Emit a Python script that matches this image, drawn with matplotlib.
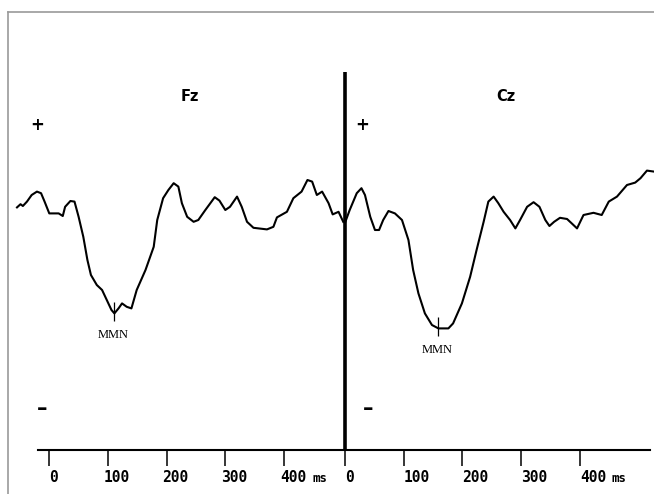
import matplotlib
matplotlib.use("Agg")
import matplotlib.pyplot as plt
from matplotlib.lines import Line2D
from matplotlib.transforms import ScaledTranslation

# Fz waveform (ms, microvolts)
fz_time = [-55, -49, -45, -38, -30, -21, -14, -8, 0, 16, 23, 27, 36, 43, 50, 58,
           65, 71, 81, 90, 98, 106, 111, 118, 124, 132, 140, 149, 164, 178, 184,
           194, 203, 212, 220, 226, 235, 246, 254, 266, 282, 290, 300, 308, 320,
           328, 337, 348, 371, 382, 388, 405, 416, 430, 440, 448, 456, 465, 476,
           483, 493, 501]
fz_amp = [-0.12, 0.04, -0.05, 0.17, 0.5, 0.67, 0.59, 0.17, -0.42, -0.42, -0.55,
          -0.09, 0.2, 0.17, -0.59, -1.59, -2.75, -3.5, -4.0, -4.25, -4.75, -5.25,
          -5.42, -5.17, -4.92, -5.09, -5.17, -4.25, -3.25, -2.09, -0.75, 0.34,
          0.75, 1.09, 0.92, 0.09, -0.59, -0.84, -0.75, -0.25, 0.39, 0.22, -0.25,
          -0.09, 0.42, -0.09, -0.84, -1.14, -1.22, -1.09, -0.62, -0.34, 0.34,
          0.67, 1.25, 1.17, 0.5, 0.67, 0.09, -0.47, -0.34, -0.84]

# Cz waveform
cz_time = [0, 8, 20, 28, 34, 43, 51, 58, 65, 74, 85, 97, 108, 116, 125, 136, 148,
           159, 176, 184, 199, 213, 224, 236, 244, 253, 261, 270, 281, 290, 298,
           310, 321, 331, 341, 348, 356, 366, 378, 386, 395, 406, 423, 437, 449,
           463, 480, 494, 503, 514, 526]
cz_amp = [-0.89, -0.25, 0.59, 0.84, 0.5, -0.59, -1.25, -1.25, -0.75, -0.3, -0.42,
          -0.75, -1.75, -3.25, -4.42, -5.42, -6.0, -6.17, -6.17, -5.92, -4.92,
          -3.59, -2.25, -0.84, 0.17, 0.42, 0.09, -0.34, -0.75, -1.17, -0.75,
          -0.09, 0.14, -0.09, -0.75, -1.05, -0.84, -0.64, -0.7, -0.92, -1.17,
          -0.5, -0.39, -0.5, 0.17, 0.42, 1.0, 1.12, 1.34, 1.72, 1.67]

ticks = [0, 100, 200, 300, 400]
tick_labels = ["0", "100", "200", "300", "400"]
mmn_fz = (111, -5.42)
mmn_cz = (159, -6.17)

W, H = 654, 494
fig = plt.figure(figsize=(W / 100, H / 100), dpi=100)

ax1 = fig.add_axes([17 / W, 44 / H, 328 / W, 450 / H])
ax2 = fig.add_axes([345 / W, 44 / H, 309 / W, 450 / H])

panels = [
    (ax1, fz_time, fz_amp, (-55, 504), (-20, 504), "Fz", 240, mmn_fz, (-20, -12), -4, 448),
    (ax2, cz_time, cz_amp, (0, 526), (0, 520), "Cz", 274, mmn_cz, (29, 39), 0, 453),
]

for ax, t, a, xl, bounds, title, tx, mmn, signx, shift, ms_x in panels:
    ax.set_xlim(*xl)
    ax.set_ylim(-12.25, 10.25)
    ax.patch.set_alpha(0)
    ax.plot(t, a, color="black", lw=1.5, solid_joinstyle="round", clip_on=False)
    for s in ["top", "left", "right"]:
        ax.spines[s].set_visible(False)
    ax.spines["bottom"].set_bounds(*bounds)
    ax.spines["bottom"].set_linewidth(1.5)
    ax.set_yticks([])
    ax.set_xticks(ticks, tick_labels, fontfamily="DejaVu Sans Mono",
                  fontweight="bold", fontsize=10.5, ha="left")
    ax.tick_params(axis="x", direction="out", length=11.5, width=1.1, pad=3)
    off = ScaledTranslation(shift / 100, 0, fig.dpi_scale_trans)
    for lbl in ax.get_xticklabels()[1:]:
        lbl.set_transform(lbl.get_transform() + off)
    ax.text(ms_x, -22 / 450, "ms", transform=ax.get_xaxis_transform(),
            fontfamily="DejaVu Sans Mono", fontweight="bold", fontsize=9,
            va="top", ha="left")
    ax.text(tx, 5.4, title, fontweight="bold", fontsize=10.5,
            ha="center", va="center")
    ax.text(signx[0], 4.0, "+", fontweight="bold", fontsize=12,
            ha="center", va="center")
    ax.text(signx[1], -10.2, "\u2013", fontweight="bold", fontsize=15,
            ha="center", va="center")
    ax.vlines(mmn[0], mmn[1] - 0.4, mmn[1] + 0.55, color="black", lw=0.9)
    ax.text(mmn[0] - 2, mmn[1] - 1.1, "MMN", fontfamily="Liberation Serif",
            fontsize=9, ha="center", va="center")

# thick divider between the two panels
ax2.vlines(0, -12.25, 6.65, color="black", lw=2.6, clip_on=False)

# grey frame
fig.add_artist(Line2D([8 / W, 8 / W], [0, 1 - 12 / H], color="#9a9a9a", lw=1.2))
fig.add_artist(Line2D([8 / W, 1], [1 - 12 / H, 1 - 12 / H], color="#9a9a9a", lw=1.2))

fig.savefig("out.png", dpi=100, facecolor="white")
